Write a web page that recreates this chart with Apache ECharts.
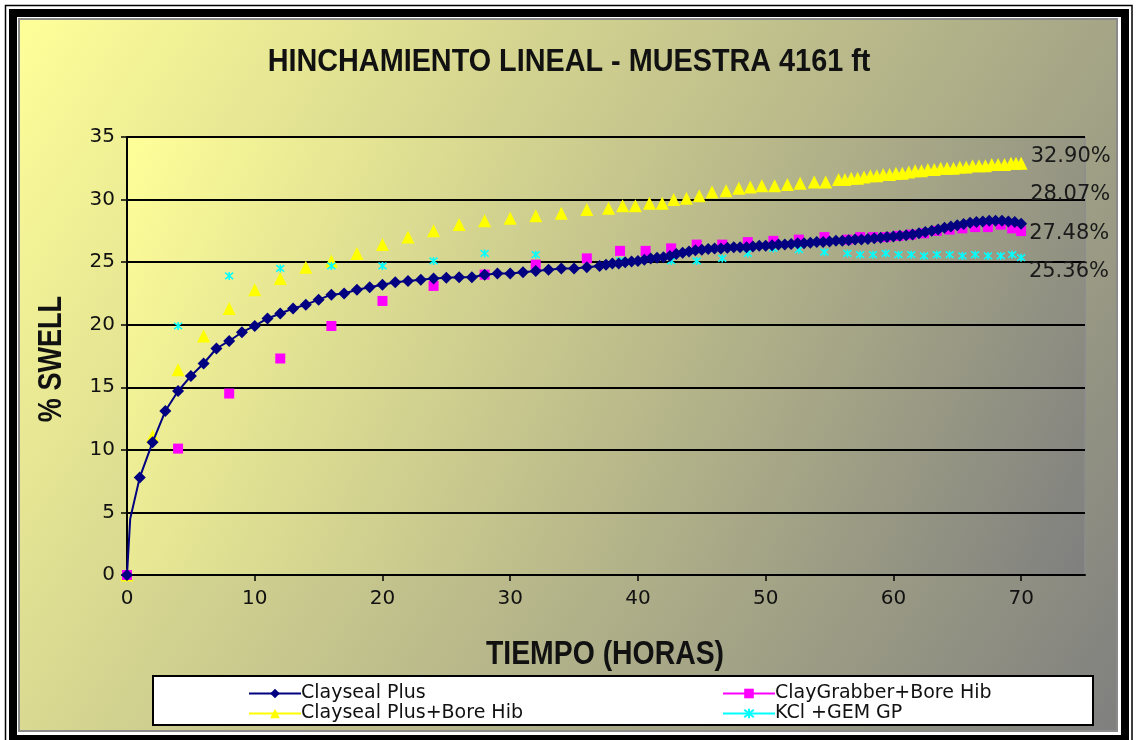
<!DOCTYPE html>
<html>
<head>
<meta charset="utf-8">
<script src="https://cdn.jsdelivr.net/npm/echarts@6/dist/echarts.min.js"></script>
<style>
html,body{margin:0;padding:0;background:#fff;}
#chart{width:1136px;height:740px;}
</style>
</head>
<body>
<div id="chart"></div>
<script>
// ---- DATA ----
const chartTitle = 'HINCHAMIENTO LINEAL - MUESTRA 4161 ft';
const xAxisName = 'TIEMPO (HORAS)';
const yAxisName = '% SWELL';
const seriesNames = ['Clayseal Plus', 'ClayGrabber+Bore Hib', 'Clayseal Plus+Bore Hib', 'KCl +GEM GP'];
const xTickValues = [0, 10, 20, 30, 40, 50, 60, 70];

const claysealPlus = [
  [0,0],[0.25,4.5],[1,7.8],[2,10.6],[3,13.1],[4,14.7],[5,15.9],[6,16.9],[7,18.1],[8,18.7],[9,19.4],
  [10,19.9],[11,20.5],[12,20.9],[13,21.3],[14,21.6],[15,22.0],[16,22.4],[17,22.5],[18,22.8],[19,23.0],
  [20,23.2],[21,23.4],[22,23.5],[23,23.6],[24,23.7],[25,23.75],[26,23.8],[27,23.8],[28,24.0],[29,24.1],
  [30,24.1],[31,24.2],[32,24.3],[33,24.4],[34,24.5],[35,24.5],[36,24.6],[37,24.7],
  [37.5,24.8],[38,24.9],[38.5,24.9],[39,25.0],[39.5,25.05],[40,25.1],[40.5,25.2],[41,25.3],[41.5,25.35],
  [42,25.4],[42.5,25.5],[43,25.65],[43.5,25.75],[44,25.85],[44.5,25.95],[45,26.0],[45.5,26.05],[46,26.1],
  [46.5,26.1],[47,26.15],[47.5,26.2],[48,26.2],[48.5,26.2],[49,26.25],[49.5,26.3],[50,26.3],[50.5,26.35],
  [51,26.4],[51.5,26.4],[52,26.45],[52.5,26.5],[53,26.5],[53.5,26.55],[54,26.6],[54.5,26.6],[55,26.65],
  [55.5,26.7],[56,26.7],[56.5,26.75],[57,26.8],[57.5,26.8],[58,26.85],[58.5,26.9],[59,26.95],[59.5,27.0],
  [60,27.05],[60.5,27.1],[61,27.15],[61.5,27.2],[62,27.3],[62.5,27.4],[63,27.5],[63.5,27.6],[64,27.75],
  [64.5,27.85],[65,27.95],[65.5,28.05],[66,28.15],[66.5,28.2],[67,28.25],[67.5,28.3],[68,28.3],[68.5,28.3],
  [69,28.25],[69.5,28.2],[70,28.07]
];
const clayGrabberBoreHib = [
  [0,0],[4,10.1],[8,14.5],[12,17.3],[16,19.9],[20,21.9],[24,23.1],[28,24.0],[32,24.8],[36,25.3],
  [38.6,25.9],[40.6,25.9],[42.6,26.1],[44.6,26.4],[46.6,26.4],[48.6,26.6],[50.6,26.7],[52.6,26.8],
  [54.6,27.0],[56.4,26.8],[57.4,27.0],[58.4,27.0],[59.4,27.0],[60.4,27.1],[61.4,27.2],[62.4,27.3],
  [63.4,27.5],[64.4,27.6],[65.4,27.7],[66.4,27.8],[67.4,27.8],[68.4,28.0],[69.3,27.7],[70,27.48]
];
const claysealPlusBoreHib = [
  [0,0],[2,11.1],[4,16.4],[6,19.1],[8,21.3],[10,22.8],[12,23.7],[14,24.6],[16,25.1],[18,25.7],[20,26.4],
  [22,27.0],[24,27.5],[26,28.0],[28,28.3],[30,28.5],[32,28.7],[34,28.9],[36,29.2],[37.7,29.3],[38.8,29.5],
  [39.8,29.5],[40.9,29.7],[41.9,29.7],[42.8,30.0],[43.8,30.1],[44.8,30.3],[45.8,30.6],[46.9,30.7],
  [47.9,30.9],[48.8,31.0],[49.7,31.1],[50.7,31.1],[51.7,31.2],[52.7,31.3],[53.8,31.4],[54.7,31.4],
  [55.7,31.6],[56.2,31.6],[56.7,31.7],[57.2,31.7],[57.7,31.8],[58.2,31.9],[58.7,31.9],[59.2,32.0],
  [59.7,32.0],[60.2,32.1],[60.7,32.1],[61.2,32.2],[61.7,32.3],[62.2,32.3],[62.7,32.4],[63.2,32.4],
  [63.7,32.5],[64.2,32.5],[64.7,32.5],[65.2,32.6],[65.7,32.6],[66.2,32.7],[66.7,32.7],[67.2,32.7],
  [67.7,32.8],[68.2,32.8],[68.7,32.8],[69.2,32.9],[69.6,32.9],[70,32.9]
];
const kclGemGp = [
  [0,0],[4,19.9],[8,23.9],[12,24.5],[16,24.7],[20,24.7],[24,25.1],[28,25.7],[32,25.6],[36,25.3],
  [38.6,25.1],[40.6,25.3],[42.6,25.1],[44.6,25.1],[46.6,25.3],[48.6,25.7],[50.6,26.1],[52.6,26.0],
  [54.6,25.8],[56.4,25.7],[57.4,25.6],[58.4,25.6],[59.4,25.7],[60.4,25.6],[61.4,25.6],[62.4,25.5],
  [63.4,25.6],[64.4,25.6],[65.4,25.5],[66.4,25.6],[67.4,25.5],[68.4,25.5],[69.3,25.6],[70,25.36]
];

// ---- STYLE ----
const C_NAVY = '#000080', C_MAG = '#FF00FF', C_YEL = '#FFFF00', C_CYAN = '#00FFFF';
const BOLD_FONT = '"Liberation Sans", Arial, sans-serif';
const TICK_FONT = '"DejaVu Sans", "Liberation Sans", sans-serif';
const STAR = 'path://M0,1L10,9M10,1L0,9M5,0L5,10';

function withEndLabel(arr, dy) {
  return arr.map((p, i) => i === arr.length - 1 ? {
    value: p,
    label: {
      show: true, position: 'right', distance: 3, offset: [0, dy],
      formatter: (prm) => prm.value[1].toFixed(2) + '%',
      fontFamily: TICK_FONT, fontSize: 21, color: '#1a1a1a'
    }
  } : p);
}

function gradient() {
  return new echarts.graphic.LinearGradient(0, 0, 1, 1, [
    { offset: 0, color: '#FFFF99' },
    { offset: 1, color: '#7F7F7F' }
  ]);
}

function boldText(text, x, y, size, sx, rot) {
  return {
    type: 'text', z: 5, x: x, y: y, scaleX: sx, rotation: rot || 0,
    style: {
      text: text, fill: '#111', textAlign: 'center', textVerticalAlign: 'middle',
      font: 'bold ' + size + 'px ' + BOLD_FONT
    }
  };
}

const chart = echarts.init(document.getElementById('chart'), null, { renderer: 'canvas' });

const option = {
  backgroundColor: '#ffffff',
  animation: false,
  graphic: [
    { type: 'rect', z: -10, shape: { x: 5.5, y: 5.5, width: 1126.5, height: 740 }, style: { fill: 'none', stroke: '#000', lineWidth: 1.5 } },
    { type: 'rect', z: -10, shape: { x: 13, y: 13, width: 1112, height: 726 }, style: { fill: 'none', stroke: '#000', lineWidth: 8 } },
    { type: 'rect', z: -10, shape: { x: 19, y: 19, width: 1098, height: 712 }, style: { fill: gradient(), stroke: '#8a8a8a', lineWidth: 2 } },
    { type: 'rect', z: 3, shape: { x: 153, y: 676, width: 940, height: 49 }, style: { fill: '#ffffff', stroke: '#000', lineWidth: 2 } },
    boldText(chartTitle, 569, 62, 32, 0.9),
    boldText(xAxisName, 605, 655, 33, 0.86),
    boldText(yAxisName, 52, 359, 33, 0.82, Math.PI / 2)
  ],
  grid: {
    left: 127, right: 51, top: 137, bottom: 165,
    show: true,
    backgroundColor: gradient(),
    borderColor: '#8c8c8c', borderWidth: 1.5
  },
  legend: [
    {
      left: 243, top: 679, orient: 'vertical', itemGap: 1, itemWidth: 52, itemHeight: 12,
      textStyle: { fontFamily: TICK_FONT, fontSize: 19, color: '#111', padding: [0, 0, 0, -5] },
      data: [
        { name: seriesNames[0] },
        { name: seriesNames[2], lineStyle: { color: C_YEL, width: 2, opacity: 1 } }
      ]
    },
    {
      left: 717, top: 679, orient: 'vertical', itemGap: 1, itemWidth: 52, itemHeight: 12,
      textStyle: { fontFamily: TICK_FONT, fontSize: 19, color: '#111', padding: [0, 0, 0, -5] },
      data: [
        { name: seriesNames[1], lineStyle: { color: C_MAG, width: 2, opacity: 1 } },
        { name: seriesNames[3], lineStyle: { color: C_CYAN, width: 2, opacity: 1 } }
      ]
    }
  ],
  xAxis: {
    type: 'value', min: 0, max: 75, interval: 10,
    axisLine: { show: true, onZero: false, lineStyle: { color: '#000', width: 2 } },
    axisTick: { show: true, length: 6, lineStyle: { color: '#000', width: 1.5 }, customValues: xTickValues },
    axisLabel: { margin: 14, fontFamily: TICK_FONT, fontSize: 20, color: '#111', customValues: xTickValues },
    splitLine: { show: false }
  },
  yAxis: {
    type: 'value', min: 0, max: 35, interval: 5,
    axisLine: { show: true, lineStyle: { color: '#000', width: 2 } },
    axisTick: { show: true, length: 6, lineStyle: { color: '#000', width: 1.5 } },
    axisLabel: { margin: 12, fontFamily: TICK_FONT, fontSize: 20, color: '#111' },
    splitLine: { show: true, lineStyle: { color: '#000', width: 2 } }
  },
  series: [
    {
      name: seriesNames[0], type: 'line', z: 5,
      data: withEndLabel(claysealPlus, -29),
      symbol: 'diamond',
      symbolSize: (v) => (v[0] > 0 && v[0] < 0.9) ? 0 : 12,
      itemStyle: { color: C_NAVY },
      lineStyle: { color: C_NAVY, width: 2 }
    },
    {
      name: seriesNames[1], type: 'line', z: 4,
      data: withEndLabel(clayGrabberBoreHib, 2),
      symbol: 'rect', symbolSize: 10,
      itemStyle: { color: C_MAG },
      lineStyle: { color: C_MAG, width: 0, opacity: 0 }
    },
    {
      name: seriesNames[2], type: 'line', z: 3,
      data: withEndLabel(claysealPlusBoreHib, -7),
      symbol: 'triangle', symbolSize: 13,
      itemStyle: { color: C_YEL },
      lineStyle: { color: C_YEL, width: 0, opacity: 0 }
    },
    {
      name: seriesNames[3], type: 'line', z: 3,
      data: withEndLabel(kclGemGp, 14),
      symbol: STAR, symbolSize: 8,
      itemStyle: { color: 'rgba(0,0,0,0)', borderColor: C_CYAN, borderWidth: 1.5 },
      lineStyle: { color: C_CYAN, width: 0, opacity: 0 }
    }
  ]
};
chart.setOption(option);
</script>
</body>
</html>
